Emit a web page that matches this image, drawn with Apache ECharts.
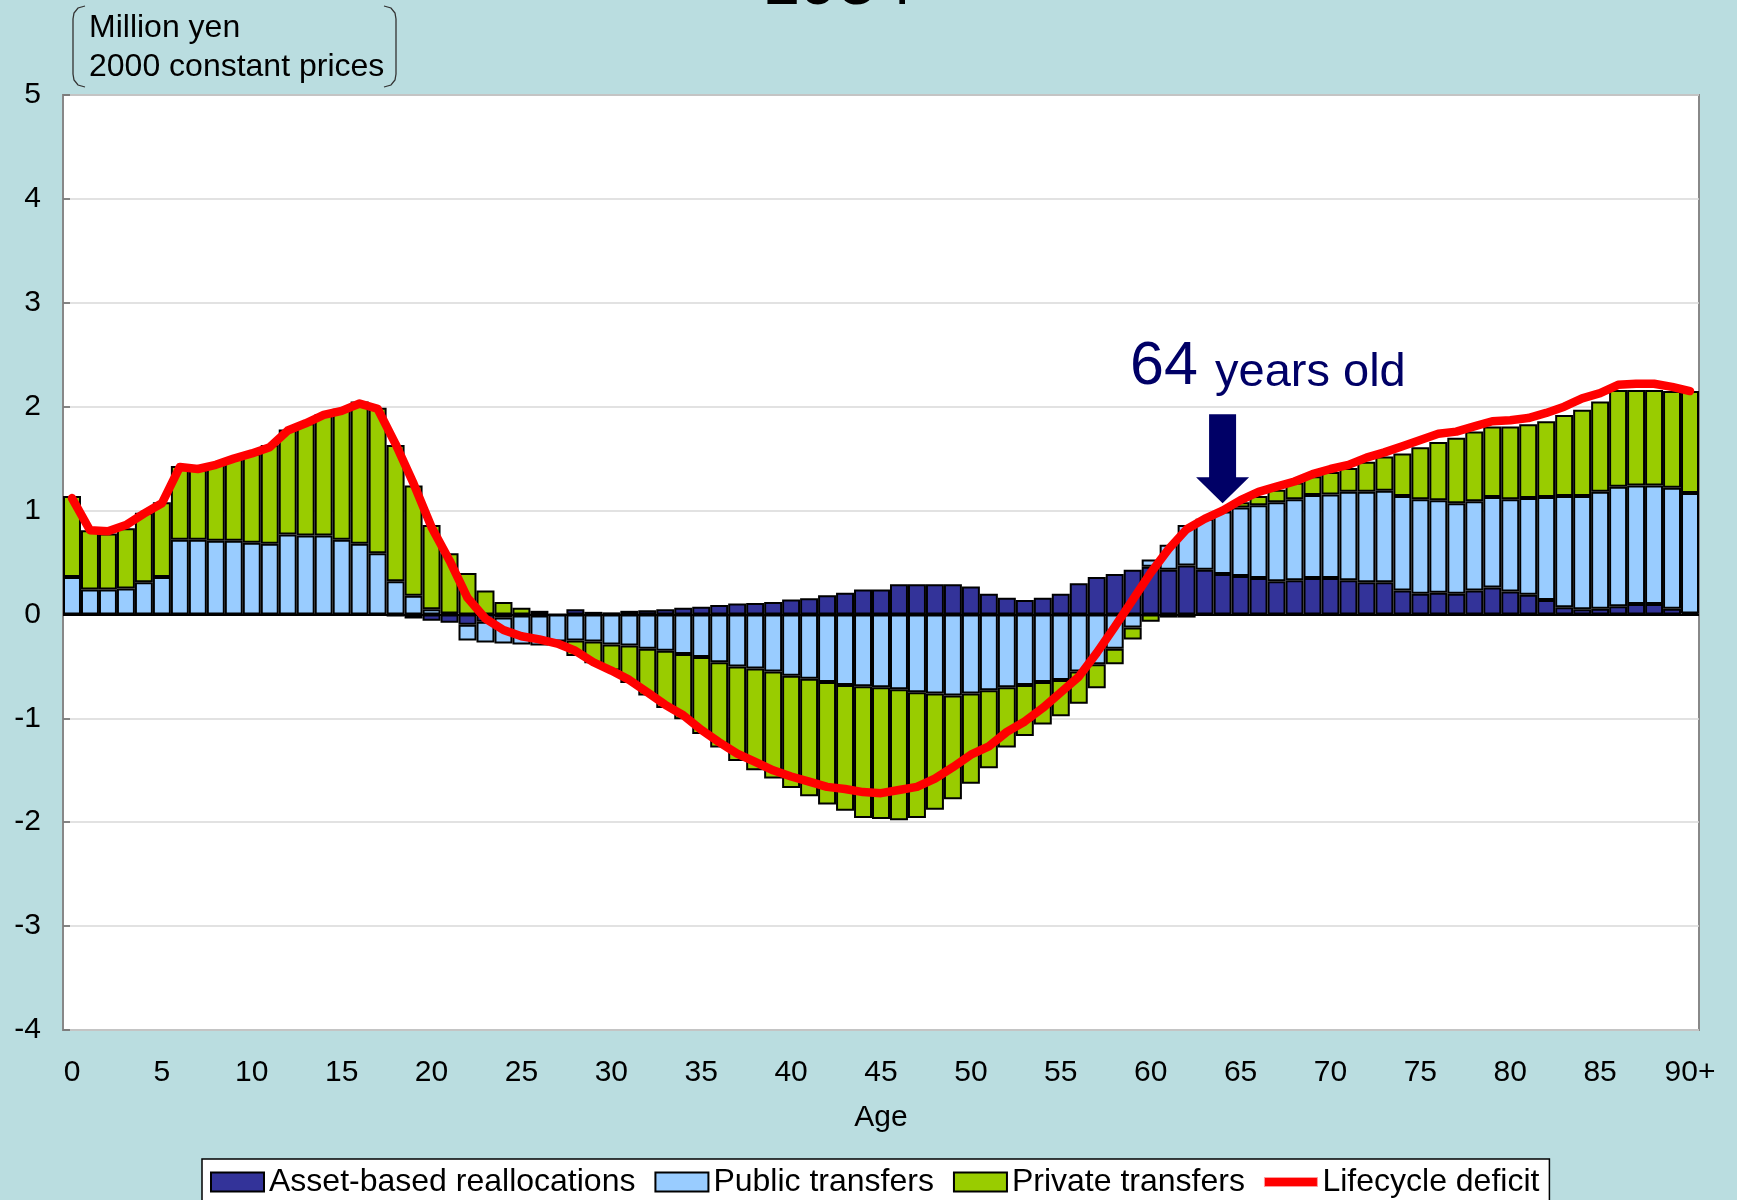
<!DOCTYPE html>
<html>
<head>
<meta charset="utf-8">
<title>Lifecycle deficit and reallocations by age</title>
<script src="https://cdn.jsdelivr.net/npm/echarts@6/dist/echarts.min.js"></script>
<style>
  html, body { margin: 0; padding: 0; background: #badde0; }
  #chart { width: 1737px; height: 1200px; }
</style>
</head>
<body>
<div id="chart"></div>
<script>
// ages 0..89 and 90+
const ages = [];
for (let a = 0; a < 90; a++) ages.push(String(a));
ages.push('90+');

// million yen, 2000 constant prices (segment values, signed)
const assetBased = [
  0, 0, 0, 0, 0, 0, 0, 0, 0, 0,
  0, 0, 0, 0, 0, -0.005, -0.005, -0.01, -0.02, -0.04,
  -0.06, -0.08, -0.10, -0.07, -0.03, -0.01, -0.01, 0, 0.05, 0.025,
  0.02, 0.035, 0.04, 0.05, 0.065, 0.075, 0.09, 0.105, 0.11, 0.12,
  0.145, 0.155, 0.185, 0.21, 0.24, 0.24, 0.29, 0.29, 0.29, 0.29,
  0.27, 0.20, 0.16, 0.14, 0.16, 0.20, 0.30, 0.36, 0.39, 0.43,
  0.46, 0.43, 0.47, 0.43, 0.39, 0.37, 0.35, 0.32, 0.33, 0.35,
  0.35, 0.33, 0.31, 0.31, 0.23, 0.20, 0.21, 0.20, 0.23, 0.26,
  0.22, 0.19, 0.14, 0.07, 0.05, 0.055, 0.08, 0.10, 0.10, 0.055,
  0.01
];

const publicTransfers = [
  0.36, 0.24, 0.24, 0.25, 0.31, 0.36, 0.72, 0.72, 0.71, 0.71,
  0.69, 0.68, 0.77, 0.76, 0.76, 0.72, 0.68, 0.59, 0.32, 0.18,
  0.05, 0.01, -0.15, -0.20, -0.25, -0.28, -0.29, -0.26, -0.25, -0.26,
  -0.29, -0.30, -0.33, -0.35, -0.38, -0.41, -0.46, -0.50, -0.52, -0.55,
  -0.59, -0.62, -0.65, -0.68, -0.69, -0.70, -0.72, -0.75, -0.76, -0.78,
  -0.76, -0.73, -0.70, -0.68, -0.65, -0.63, -0.55, -0.48, -0.33, -0.125,
  0.07, 0.24, 0.39, 0.49, 0.60, 0.66, 0.70, 0.76, 0.78, 0.80,
  0.805, 0.85, 0.87, 0.88, 0.91, 0.91, 0.89, 0.87, 0.86, 0.87,
  0.89, 0.93, 0.99, 1.07, 1.09, 1.125, 1.15, 1.14, 1.14, 1.165,
  1.16
];

const privateTransfers = [
  0.78, 0.57, 0.54, 0.58, 0.67, 0.72, 0.71, 0.67, 0.74, 0.79,
  0.86, 0.95, 1.01, 1.08, 1.17, 1.26, 1.37, 1.40, 1.31, 1.06,
  0.81, 0.58, 0.40, 0.23, 0.12, 0.065, 0.035, -0.01, -0.15, -0.21,
  -0.25, -0.36, -0.45, -0.55, -0.63, -0.74, -0.82, -0.91, -0.98, -1.03,
  -1.08, -1.13, -1.18, -1.21, -1.27, -1.27, -1.26, -1.21, -1.12, -1.00,
  -0.87, -0.75, -0.58, -0.49, -0.41, -0.35, -0.31, -0.23, -0.15, -0.115,
  -0.07, -0.03, -0.03, -0.01, 0.01, 0.05, 0.09, 0.12, 0.16, 0.18,
  0.215, 0.23, 0.29, 0.33, 0.41, 0.50, 0.56, 0.63, 0.67, 0.68,
  0.70, 0.71, 0.73, 0.78, 0.83, 0.87, 0.93, 0.92, 0.92, 0.93,
  0.98
];

const lifecycleDeficit = [
  1.12, 0.81, 0.80, 0.86, 0.97, 1.07, 1.42, 1.40, 1.44, 1.50,
  1.55, 1.61, 1.77, 1.84, 1.92, 1.96, 2.03, 1.98, 1.64, 1.26,
  0.84, 0.52, 0.16, -0.04, -0.15, -0.21, -0.24, -0.28, -0.35, -0.46,
  -0.54, -0.63, -0.75, -0.87, -0.97, -1.11, -1.23, -1.34, -1.42, -1.50,
  -1.56, -1.61, -1.66, -1.68, -1.71, -1.72, -1.69, -1.66, -1.58, -1.47,
  -1.35, -1.27, -1.13, -1.03, -0.90, -0.75, -0.60, -0.37, -0.12, 0.14,
  0.40, 0.63, 0.82, 0.92, 1.00, 1.10, 1.18, 1.23, 1.28, 1.35,
  1.40, 1.44, 1.51, 1.56, 1.62, 1.68, 1.74, 1.76, 1.81, 1.86,
  1.87, 1.89, 1.94, 2.00, 2.08, 2.13, 2.21, 2.22, 2.22, 2.19,
  2.15
];

const yTicks = { min: -4, max: 5, step: 1 };
const markedAge = '64';

const FONT = '"Liberation Sans", Arial, sans-serif';
const chart = echarts.init(document.getElementById('chart'), null, { renderer: 'canvas' });

const barStyle = (color) => ({ color: color, borderColor: '#000', borderWidth: 2 });

chart.setOption({
  animation: false,
  backgroundColor: '#badde0',
  textStyle: { fontFamily: FONT },
  grid: {
    left: 63, right: 38, top: 95, bottom: 170,
    show: true, backgroundColor: '#fff', borderColor: '#888', borderWidth: 2
  },
  legend: {
    left: 202, top: 1159,
    itemWidth: 53, itemHeight: 19, itemGap: 19,
    padding: [7, 10, 24, 8],
    backgroundColor: '#fff', borderColor: '#000', borderWidth: 1.5,
    textStyle: { fontSize: 32, color: '#000', fontFamily: FONT },
    data: [
      { name: 'Asset-based reallocations', icon: 'rect' },
      { name: 'Public transfers', icon: 'rect' },
      { name: 'Private transfers', icon: 'rect' },
      { name: 'Lifecycle deficit', icon: 'path://M0,0 L53,0 L53,9 L0,9 Z',
        itemStyle: { color: '#ff0000', borderColor: '#ff9a9a', borderWidth: 1 } }
    ]
  },
  xAxis: {
    type: 'category',
    data: ages,
    axisLine: { show: false },
    axisTick: { show: false },
    axisLabel: {
      interval: (i) => i % 5 === 0,
      fontSize: 30, color: '#000', margin: 28, fontFamily: FONT
    },
    name: 'Age',
    nameLocation: 'middle',
    nameGap: 73,
    nameTextStyle: { fontSize: 30, color: '#000', fontFamily: FONT },
    splitLine: { show: false }
  },
  yAxis: {
    type: 'value',
    min: yTicks.min, max: yTicks.max, interval: yTicks.step,
    axisLine: { show: false },
    axisTick: { show: true, inside: true, length: 7, lineStyle: { color: '#666', width: 1.5 } },
    axisLabel: { fontSize: 30, color: '#000', margin: 22, fontFamily: FONT },
    splitLine: { lineStyle: { color: '#d9d9d9', width: 1.5 } }
  },
  series: [
    {
      name: 'Asset-based reallocations', type: 'bar', stack: 'total', stackStrategy: 'samesign',
      barWidth: '100%', data: assetBased, itemStyle: barStyle('#333399'),
      markLine: {
        silent: true, symbol: 'none', label: { show: false },
        lineStyle: { color: '#000', width: 2, type: 'solid' },
        data: [{ yAxis: 0 }]
      }
    },
    {
      name: 'Public transfers', type: 'bar', stack: 'total', stackStrategy: 'samesign',
      barWidth: '100%', data: publicTransfers, itemStyle: barStyle('#99ccff')
    },
    {
      name: 'Private transfers', type: 'bar', stack: 'total', stackStrategy: 'samesign',
      barWidth: '100%', data: privateTransfers, itemStyle: barStyle('#99cc00')
    },
    {
      name: 'Lifecycle deficit', type: 'line', data: lifecycleDeficit,
      symbol: 'none', z: 10,
      lineStyle: { color: '#ff0000', width: 8.5, cap: 'round', join: 'round' },
      itemStyle: { color: '#ff0000' }
    }
  ]
});

// arrow pointing at the marked age on the deficit curve
const idx = ages.indexOf(markedAge);
const tip = chart.convertToPixel({ xAxisIndex: 0, yAxisIndex: 0 }, [idx, lifecycleDeficit[idx] + 0.07]);
const tx = tip[0], ty = tip[1];

chart.setOption({
  graphic: [
    {
      type: 'text', x: 838, y: -15,
      style: { text: '1984', font: '68px ' + FONT, fill: '#000', textAlign: 'center', textVerticalAlign: 'middle' }
    },
    {
      type: 'polyline',
      shape: { points: [[85, 6], [78, 8], [74, 13], [73, 19], [73, 74], [74, 80], [78, 85], [85, 87]] },
      style: { stroke: '#333', lineWidth: 1.3, fill: null }
    },
    {
      type: 'polyline',
      shape: { points: [[384, 6], [391, 8], [395, 13], [396, 19], [396, 74], [395, 80], [391, 85], [384, 87]] },
      style: { stroke: '#333', lineWidth: 1.3, fill: null }
    },
    {
      type: 'text', x: 89, y: 28,
      style: { text: 'Million yen', font: '32px ' + FONT, fill: '#000', textVerticalAlign: 'middle' }
    },
    {
      type: 'text', x: 89, y: 67,
      style: { text: '2000 constant prices', font: '32px ' + FONT, fill: '#000', textVerticalAlign: 'middle' }
    },
    {
      type: 'text', x: 1130, y: 367,
      style: { text: '64', font: '61px ' + FONT, fill: '#000066', textVerticalAlign: 'middle' }
    },
    {
      type: 'text', x: 1215, y: 373,
      style: { text: 'years old', font: '47px ' + FONT, fill: '#000066', textVerticalAlign: 'middle' }
    },
    {
      type: 'polygon', z: 20,
      shape: {
        points: [
          [tx - 13.5, ty - 89], [tx + 13.5, ty - 89], [tx + 13.5, ty - 26], [tx + 26.5, ty - 26],
          [tx, ty], [tx - 26.5, ty - 26], [tx - 13.5, ty - 26]
        ]
      },
      style: { fill: '#000066' }
    }
  ]
});
</script>
</body>
</html>
